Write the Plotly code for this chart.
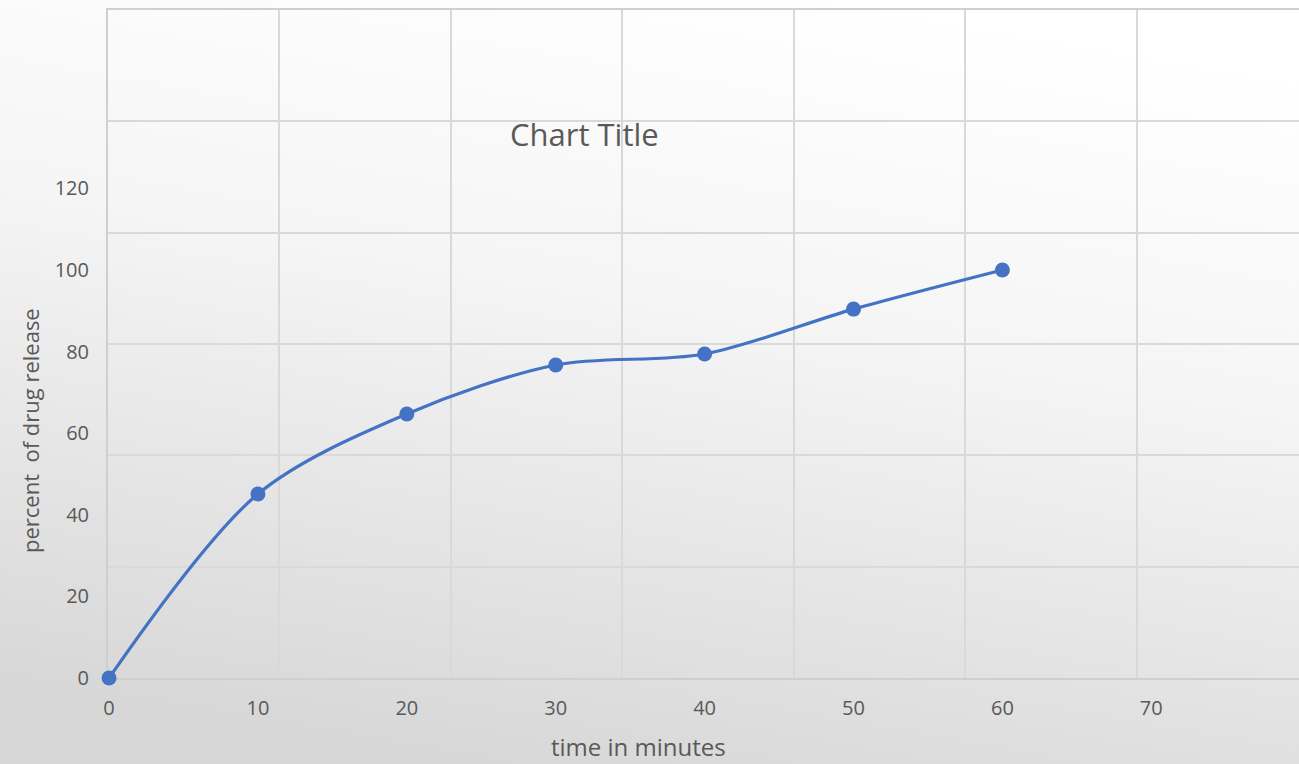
import base64
import plotly.graph_objects as go

# Dissolution profile: cumulative drug release over time
time_min = [0, 10, 20, 30, 40, 50, 60]
release_pct = [0, 45.1, 64.7, 76.7, 79.4, 90.4, 100]

x_ticks = [0, 10, 20, 30, 40, 50, 60, 70]
y_ticks = [0, 20, 40, 60, 80, 100, 120]

TEXT = "#595959"
GRID = "#d9d9d9"
LINE = "#4472C4"
FONT = "Open Sans"

W, H = 1299, 764
L, R, T, B = 108, 0, 10, 86
PW, PH = W - L - R, H - T - B


def px(x):
    """pixel column -> paper x"""
    return (x - L) / PW


def py(y):
    """pixel row -> paper y"""
    return 1 - (y - T) / PH


# soft slide-style background gradient (light top, darker bottom-left)
svg = f"""<svg xmlns='http://www.w3.org/2000/svg' width='{W}' height='{H}' preserveAspectRatio='none'>
<defs><linearGradient id='g' x1='0.65' y1='0' x2='0.35' y2='1'>
<stop offset='0' stop-color='#ffffff'/>
<stop offset='0.4' stop-color='#f5f5f5'/>
<stop offset='1' stop-color='#d7d7d7'/>
</linearGradient></defs>
<rect width='{W}' height='{H}' fill='url(#g)'/></svg>"""
bg_uri = "data:image/svg+xml;base64," + base64.b64encode(svg.encode()).decode()

fig = go.Figure()

# invisible trace that carries the background grid axes
fig.add_trace(go.Scatter(x=[0], y=[0], xaxis="x2", yaxis="y2",
                         mode="markers", marker=dict(opacity=0),
                         hoverinfo="skip", showlegend=False))

fig.add_trace(go.Scatter(
    x=time_min, y=release_pct, mode="lines+markers",
    line=dict(color=LINE, width=3.2, shape="spline", smoothing=0.9),
    marker=dict(color=LINE, size=15),
    cliponaxis=False, showlegend=False,
))

fig.update_layout(
    width=W, height=H,
    margin=dict(l=L, r=R, t=T, b=B),
    paper_bgcolor="rgba(0,0,0,0)",
    plot_bgcolor="rgba(0,0,0,0)",
    font=dict(family=FONT, color=TEXT),
    images=[dict(source=bg_uri, xref="paper", yref="paper",
                 x=px(0), y=py(0), sizex=W / PW, sizey=H / PH,
                 sizing="stretch", layer="below",
                 xanchor="left", yanchor="top")],
    xaxis=dict(range=[-0.07, 79.92], tickvals=x_ticks, showgrid=False,
               zeroline=False, showline=False, ticks="",
               ticklabelstandoff=16, tickfont=dict(size=20, color=TEXT)),
    yaxis=dict(range=[0, 163.7], tickvals=y_ticks, showgrid=False,
               zeroline=False, showline=False, ticks="",
               ticklabelstandoff=18, tickfont=dict(size=20, color=TEXT)),
    xaxis2=dict(overlaying="x", range=[0, 6.945], dtick=1, showgrid=True,
                gridcolor=GRID, gridwidth=1.5, showticklabels=False,
                zeroline=False, showline=True, mirror=True,
                linecolor="#cfcfcf", linewidth=2, anchor="y2",
                layer="below traces"),
    yaxis2=dict(overlaying="y", range=[0, 6], dtick=1, showgrid=True,
                gridcolor=GRID, gridwidth=1.5, showticklabels=False,
                zeroline=False, showline=True, linecolor="#cfcfcf",
                linewidth=2, anchor="x2", layer="below traces"),
    annotations=[
        dict(text="Chart Title", x=px(584), y=py(134), xref="paper",
             yref="paper", xanchor="center", yanchor="middle",
             showarrow=False, font=dict(size=31, color=TEXT)),
        dict(text="time in minutes", x=px(638), y=py(746), xref="paper",
             yref="paper", xanchor="center", yanchor="middle",
             showarrow=False, font=dict(size=24, color=TEXT)),
        dict(text="percent  of drug release", x=px(30), y=py(431),
             xref="paper", yref="paper", xanchor="center", yanchor="middle",
             textangle=-90, showarrow=False, font=dict(size=22, color=TEXT)),
    ],
)

fig.write_html("out.html")
